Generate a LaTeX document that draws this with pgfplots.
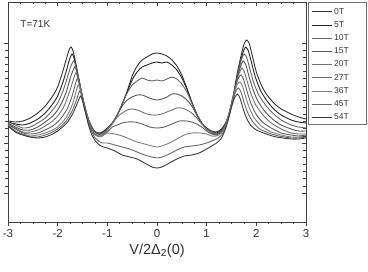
\documentclass[border=0pt]{standalone}
\usepackage{fontspec}
\setmainfont{Liberation Sans}
\usepackage{pgfplots}
\pgfplotsset{compat=1.18}
\definecolor{c0}{HTML}{333333}
\definecolor{c1}{HTML}{262626}
\definecolor{c2}{HTML}{666666}
\definecolor{c3}{HTML}{575757}
\definecolor{c4}{HTML}{727272}
\definecolor{c5}{HTML}{626262}
\definecolor{c6}{HTML}{808080}
\definecolor{c7}{HTML}{686868}
\definecolor{c8}{HTML}{3A3A3A}
\begin{document}
\begin{tikzpicture}
\begin{axis}[
  scale only axis, width=298pt, height=220pt,
  xmin=-3, xmax=3, ymin=0, ymax=220,
  axis line style={color=black!75, line width=0.8pt},
  xtick={-3,-2,-1,0,1,2,3},
  xticklabels={-3,-2,-1,0,1,2,3},
  minor x tick num=3,
  ytick={29,79,129,179},
  yticklabels={},
  minor y tick num=6,
  xtick pos=left, ytick pos=left,
  tick align=outside,
  major tick length=4pt, minor tick length=2.5pt,
  tick style={color=black!75, line width=0.6pt},
  xticklabel style={font=\fontsize{11.5}{12}\selectfont, text=black!80},
  xlabel={V/2Δ\textsubscript{2}(0)},
  xlabel style={font=\fontsize{14.5}{15}\selectfont, text=black!80, yshift=1pt},
  legend style={at={(rel axis cs:1,1)}, xshift=4pt, yshift=-3pt, anchor=north west,
    draw=none, fill=none, font=\fontsize{8.5}{9}\selectfont, text=black!80,
    row sep=1.8pt, inner xsep=1pt, inner ysep=1pt},
  legend cell align=left,
  legend image code/.code={\draw[#1, line width=1pt] (0pt,0pt) -- (20pt,0pt);},
  every axis plot/.append style={line width=0.9pt, smooth, tension=0.4},
]
\addplot[c0] coordinates {(-3,101) (-2.85,100) (-2.7,101) (-2.55,104) (-2.4,109) (-2.25,116) (-2.1,126) (-2.0,135) (-1.9,150) (-1.82,164) (-1.77,172) (-1.73,175) (-1.69,171) (-1.64,160) (-1.58,145) (-1.5,125) (-1.42,108) (-1.34,97) (-1.26,91) (-1.18,89) (-1.1,90) (-1.0,94) (-0.9,99) (-0.8,107) (-0.7,118) (-0.6,131) (-0.5,146) (-0.4,156) (-0.3,162) (-0.2,165) (-0.1,168) (0,169) (0.1,168) (0.2,166) (0.3,162) (0.4,156) (0.5,147) (0.6,134) (0.7,120) (0.8,108) (0.9,99) (1.0,94) (1.1,91) (1.2,90) (1.3,93) (1.38,99) (1.46,110) (1.54,128) (1.62,150) (1.7,168) (1.76,179) (1.81,182) (1.86,178) (1.92,166) (2.0,150) (2.1,137) (2.2,128) (2.35,119) (2.5,113) (2.7,108) (2.85,105) (3.0,103)};
\addlegendentry{0T}
\addplot[c1] coordinates {(-3,100) (-2.85,98) (-2.7,97) (-2.55,99) (-2.4,103) (-2.25,109) (-2.1,118) (-2.0,126) (-1.9,139) (-1.82,152) (-1.76,163) (-1.71,168) (-1.67,164) (-1.62,153) (-1.56,139) (-1.48,120) (-1.4,105) (-1.32,95) (-1.24,90) (-1.16,88) (-1.08,90) (-1.0,93) (-0.9,99) (-0.8,107) (-0.7,118) (-0.6,130) (-0.5,142) (-0.4,150) (-0.3,155) (-0.2,157) (-0.1,159) (0,160) (0.1,159) (0.2,160) (0.3,157) (0.4,152) (0.5,144) (0.6,133) (0.7,120) (0.8,108) (0.9,99) (1.0,93) (1.1,90) (1.2,89) (1.3,92) (1.38,98) (1.46,109) (1.54,126) (1.62,146) (1.69,162) (1.75,172) (1.79,175) (1.84,171) (1.9,160) (1.98,145) (2.08,132) (2.2,122) (2.35,113) (2.5,107) (2.7,102) (2.85,100) (3.0,99)};
\addlegendentry{5T}
\addplot[c2] coordinates {(-3,100) (-2.85,97) (-2.7,94) (-2.55,95) (-2.4,99) (-2.25,104) (-2.1,112) (-2.0,119) (-1.9,130) (-1.82,142) (-1.74,155) (-1.68,161) (-1.64,157) (-1.59,146) (-1.53,132) (-1.46,117) (-1.38,103) (-1.3,94) (-1.22,89) (-1.14,88) (-1.06,90) (-1.0,93) (-0.9,99) (-0.8,107) (-0.7,118) (-0.6,129) (-0.5,137) (-0.4,141) (-0.3,144) (-0.2,142) (-0.1,141) (0,142) (0.1,141) (0.2,143) (0.3,145) (0.4,143) (0.5,138) (0.6,130) (0.7,119) (0.8,108) (0.9,99) (1.0,93) (1.1,90) (1.2,88) (1.3,91) (1.38,97) (1.46,108) (1.54,124) (1.61,142) (1.67,157) (1.72,165) (1.76,168) (1.81,164) (1.87,153) (1.95,139) (2.05,127) (2.2,116) (2.35,108) (2.5,102) (2.7,97) (2.85,95) (3.0,94)};
\addlegendentry{10T}
\addplot[c3] coordinates {(-3,99) (-2.85,95) (-2.7,92) (-2.55,92) (-2.4,95) (-2.25,100) (-2.1,106) (-2.0,112) (-1.9,121) (-1.82,131) (-1.74,145) (-1.66,155) (-1.62,151) (-1.57,141) (-1.51,127) (-1.44,113) (-1.36,100) (-1.28,92) (-1.2,88) (-1.12,87) (-1.04,90) (-0.96,95) (-0.88,100) (-0.8,107) (-0.7,116) (-0.6,122) (-0.5,125) (-0.4,127) (-0.3,127) (-0.2,125) (-0.1,123) (0,122) (0.1,123) (0.2,125) (0.3,128) (0.4,128) (0.5,126) (0.6,122) (0.7,116) (0.8,107) (0.9,99) (1.0,93) (1.1,89) (1.2,88) (1.3,91) (1.38,97) (1.46,109) (1.53,124) (1.6,140) (1.66,152) (1.71,159) (1.74,161) (1.79,157) (1.85,146) (1.93,133) (2.03,121) (2.18,110) (2.35,102) (2.5,97) (2.7,93) (2.85,91) (3.0,91)};
\addlegendentry{15T}
\addplot[c4] coordinates {(-3,98) (-2.85,94) (-2.7,90) (-2.55,90) (-2.4,92) (-2.25,96) (-2.1,101) (-2.0,106) (-1.9,113) (-1.82,122) (-1.73,135) (-1.64,149) (-1.6,145) (-1.55,135) (-1.49,121) (-1.42,107) (-1.34,96) (-1.26,89) (-1.18,86) (-1.1,87) (-1.0,92) (-0.9,98) (-0.8,105) (-0.7,109) (-0.6,112) (-0.5,113) (-0.4,112) (-0.3,110) (-0.2,108) (-0.1,107) (0,107) (0.1,108) (0.2,110) (0.3,112) (0.4,114) (0.5,114) (0.6,112) (0.7,109) (0.8,104) (0.9,98) (1.0,93) (1.1,89) (1.2,87) (1.3,90) (1.38,96) (1.45,107) (1.52,121) (1.59,137) (1.65,148) (1.71,154) (1.76,150) (1.82,140) (1.9,127) (2.0,116) (2.15,106) (2.3,99) (2.5,93) (2.7,89) (2.85,88) (3.0,88)};
\addlegendentry{20T}
\addplot[c5] coordinates {(-3,98) (-2.85,93) (-2.7,89) (-2.55,88) (-2.4,89) (-2.25,92) (-2.1,96) (-2.0,100) (-1.9,106) (-1.8,114) (-1.71,126) (-1.61,143) (-1.57,139) (-1.52,129) (-1.46,116) (-1.39,102) (-1.31,92) (-1.23,87) (-1.15,85) (-1.07,87) (-1.0,90) (-0.9,95) (-0.8,97) (-0.7,99) (-0.6,100) (-0.45,100) (-0.3,98) (-0.15,95) (0,94) (0.15,95) (0.3,98) (0.45,101) (0.6,101) (0.7,100) (0.8,98) (0.9,95) (1.0,91) (1.1,88) (1.2,87) (1.3,90) (1.37,96) (1.44,107) (1.51,121) (1.58,135) (1.64,144) (1.69,147) (1.74,143) (1.8,133) (1.88,120) (1.98,109) (2.12,100) (2.3,94) (2.5,89) (2.7,87) (2.85,86) (3.0,87)};
\addlegendentry{27T}
\addplot[c6] coordinates {(-3,97) (-2.85,91) (-2.7,88) (-2.55,86) (-2.4,87) (-2.25,89) (-2.1,92) (-2.0,95) (-1.9,100) (-1.8,107) (-1.7,118) (-1.59,137) (-1.55,133) (-1.5,123) (-1.44,111) (-1.37,98) (-1.29,89) (-1.21,86) (-1.13,86) (-1.05,88) (-1.0,89) (-0.85,88) (-0.7,86) (-0.55,83) (-0.4,80) (-0.25,78) (-0.1,76) (0,75) (0.1,76) (0.25,79) (0.4,83) (0.55,87) (0.7,89) (0.85,89) (1.0,88) (1.1,86) (1.2,86) (1.3,89) (1.37,95) (1.44,106) (1.51,119) (1.57,131) (1.62,138) (1.67,140) (1.72,136) (1.78,126) (1.86,114) (1.96,104) (2.1,96) (2.3,90) (2.5,87) (2.7,85) (2.85,85) (3.0,86)};
\addlegendentry{36T}
\addplot[c7] coordinates {(-3,97) (-2.85,90) (-2.7,87) (-2.55,85) (-2.4,85) (-2.25,87) (-2.1,90) (-2.0,93) (-1.9,97) (-1.8,103) (-1.7,112) (-1.62,122) (-1.56,131) (-1.52,127) (-1.47,117) (-1.41,105) (-1.34,93) (-1.26,85) (-1.18,81) (-1.1,79) (-1.0,79) (-0.85,77) (-0.7,75) (-0.55,73) (-0.4,70) (-0.25,67) (-0.1,65) (0,64) (0.1,65) (0.25,68) (0.4,72) (0.55,75) (0.7,76) (0.85,77) (1.0,79) (1.1,81) (1.2,83) (1.3,87) (1.37,93) (1.44,104) (1.5,116) (1.56,127) (1.6,132) (1.64,134) (1.69,130) (1.75,120) (1.83,109) (1.93,100) (2.07,93) (2.25,89) (2.45,86) (2.7,84) (2.85,84) (3.0,85)};
\addlegendentry{45T}
\addplot[c8] coordinates {(-3,96) (-2.85,90) (-2.7,87) (-2.55,85) (-2.4,84) (-2.25,85) (-2.1,88) (-2.0,91) (-1.9,95) (-1.8,100) (-1.7,108) (-1.61,118) (-1.54,126) (-1.5,121) (-1.45,111) (-1.39,99) (-1.32,88) (-1.24,81) (-1.16,77) (-1.08,75) (-1.0,74) (-0.85,71) (-0.7,67) (-0.55,65) (-0.4,63) (-0.25,59) (-0.1,55) (0,54) (0.1,55) (0.25,59) (0.4,63) (0.55,66) (0.7,67) (0.85,69) (1.0,73) (1.1,76) (1.2,79) (1.3,84) (1.37,92) (1.44,103) (1.5,115) (1.56,124) (1.62,128) (1.67,124) (1.73,114) (1.81,103) (1.9,96) (2.0,92) (2.2,88) (2.4,85) (2.7,83) (2.85,83) (3.0,84)};
\addlegendentry{54T}
\node[anchor=west, font=\fontsize{10}{11}\selectfont, text=black!80] at (axis cs:-2.82,198) {T=71K};
\end{axis}
\begin{axis}[
  scale only axis, width=298pt, height=220pt,
  xmin=-3, xmax=3, ymin=0, ymax=220,
  axis line style={draw=none},
  xtick={-3,-2,-1,0,1,2,3}, minor x tick num=3,
  ytick={29,79,129,179}, minor y tick num=6,
  xticklabels={}, yticklabels={},
  xtick pos=right, ytick pos=right,
  tick align=inside,
  major tick length=4pt, minor tick length=2.5pt,
  tick style={color=black!75, line width=0.6pt},
]
\end{axis}
\draw[black!55, line width=0.6pt] (300pt,220pt) rectangle (358pt,98pt);
\pgfresetboundingbox
\path (-8pt,-50pt) rectangle (360pt,222pt);
\end{tikzpicture}
\end{document}
